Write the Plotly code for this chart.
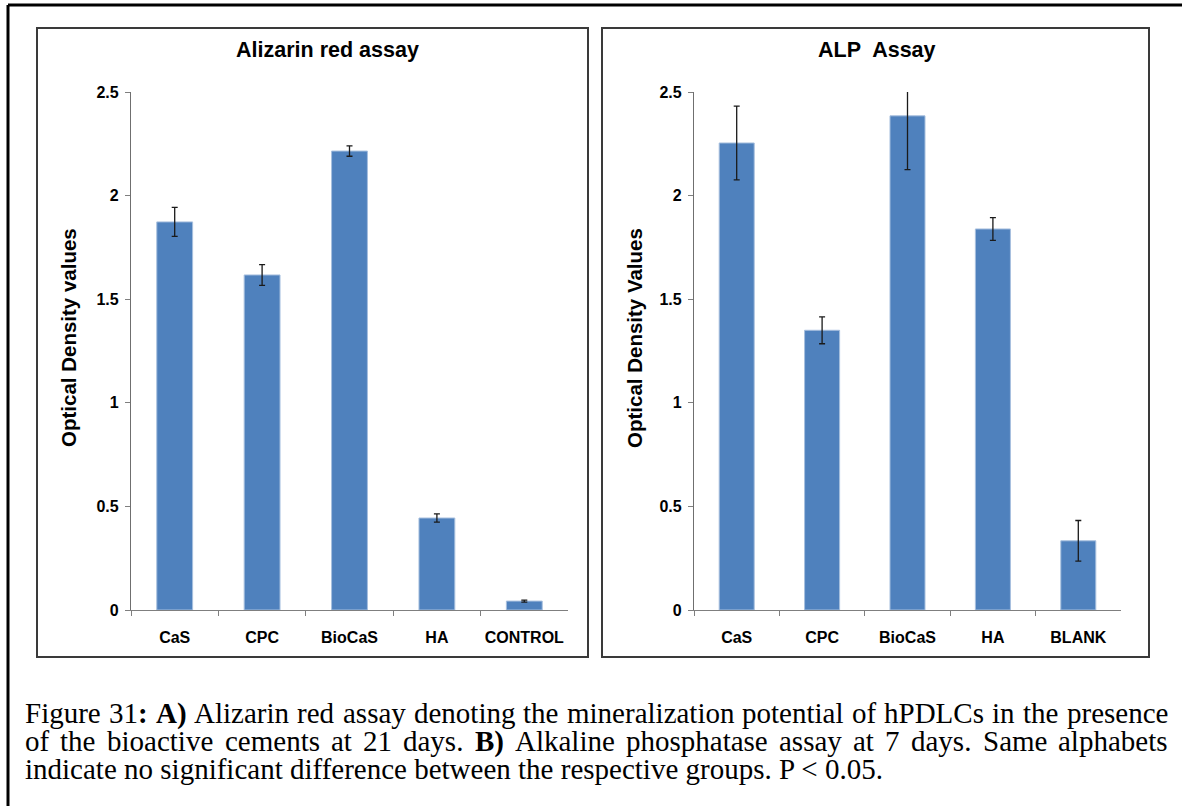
import re
import plotly.graph_objects as go

W, H = 1182, 806

# ---- data ----
cats_a = ["CaS", "CPC", "BioCaS", "HA", "CONTROL"]
vals_a = [1.873, 1.617, 2.215, 0.444, 0.043]
err_a = [0.07, 0.05, 0.025, 0.02, 0.005]

cats_b = ["CaS", "CPC", "BioCaS", "HA", "BLANK"]
vals_b = [2.254, 1.350, 2.385, 1.839, 0.334]
err_b = [0.178, 0.065, 0.26, 0.055, 0.098]

y_ticks = [0, 0.5, 1, 1.5, 2, 2.5]
y_ticktext = ["0", "0.5", "1", "1.5", "2", "2.5"]

title_a = "Alizarin red assay"
title_b = "ALP  Assay"
ytitle_a = "Optical Density values"
ytitle_b = "Optical Density Values"

caption_lines = [
    "Figure 31<b>:</b> <b>A)</b> Alizarin red assay denoting the mineralization potential of hPDLCs in the presence",
    "of the bioactive cements at 21 days. <b>B)</b> Alkaline phosphatase assay at 7 days. Same alphabets",
    "indicate no significant difference between the respective groups. P &lt; 0.05.",
]

BAR = "#4F81BD"
SANS = "Liberation Sans, Arial, sans-serif"
SERIF = "Liberation Serif, Times New Roman, serif"


def px(x):
    return x / W


def py(y):
    return 1 - y / H


# Times metrics (per 1000 em) for caption justification
REG = {" ": 250, ".": 250, ",": 250, ":": 278, "(": 333, ")": 333, "<": 564}
for c in "0123456789":
    REG[c] = 500
REG.update(dict(zip("abcdefghijklmnopqrstuvwxyz",
                    [444, 500, 444, 500, 444, 333, 500, 500, 278, 278, 500, 278, 778, 500, 500, 500, 500,
                     333, 389, 278, 500, 500, 722, 500, 500, 444])))
REG.update(dict(zip("ABCDEFGHIJKLMNOPQRSTUVWXYZ",
                    [722, 667, 667, 722, 611, 556, 722, 722, 333, 389, 722, 611, 889, 722, 722, 556, 722,
                     667, 556, 611, 722, 722, 944, 722, 722, 611])))
BOLD = {":": 333, ")": 333, "A": 722, "B": 667}


def text_width(html, size):
    html = html.replace("&lt;", "<")
    total = 0
    for m in re.finditer(r"<b>(.*?)</b>|([^<]+|<)", html):
        if m.group(1) is not None:
            seg, bold = m.group(1), True
        else:
            seg, bold = m.group(2), False
        for ch in seg:
            total += BOLD.get(ch, REG.get(ch, 500)) if bold else REG.get(ch, 500)
    return total * size / 1000


fig = go.Figure()
for cats, vals, errs, xa, ya in [(cats_a, vals_a, err_a, "x", "y"), (cats_b, vals_b, err_b, "x2", "y2")]:
    fig.add_trace(go.Bar(
        x=cats, y=vals, xaxis=xa, yaxis=ya,
        marker=dict(color=BAR, line=dict(color="#A7BFDE", width=1)),
        error_y=dict(type="data", array=errs, visible=True, color="#1a1a1a", thickness=1.3, width=3),
        showlegend=False, hoverinfo="skip",
    ))

y_dom = [py(610), py(92)]
axis_common_y = dict(
    range=[0, 2.5], tickvals=y_ticks, ticktext=y_ticktext, showgrid=False, zeroline=False,
    showline=True, linecolor="#6f6f6f", linewidth=1.2, ticks="outside", ticklen=5, tickcolor="#7f7f7f",
    tickfont=dict(family=SANS, size=16, color="black", weight="bold"), ticklabelstandoff=3,
    automargin=False,
)
axis_common_x = dict(
    type="category", showgrid=False, zeroline=False, showline=True, linecolor="#7f7f7f", linewidth=1.2,
    ticks="outside", tickson="boundaries", ticklen=5, tickcolor="#7f7f7f", tickangle=0,
    tickfont=dict(family=SANS, size=16, color="black", weight="bold"), ticklabelstandoff=13,
    automargin=False,
)

fig.update_layout(
    width=W, height=H, margin=dict(l=0, r=0, t=0, b=0, autoexpand=False),
    paper_bgcolor="white", plot_bgcolor="white", bargap=0.59,
    xaxis=dict(domain=[px(131), px(568)], anchor="y", **axis_common_x),
    yaxis=dict(domain=y_dom, anchor="x", **axis_common_y),
    xaxis2=dict(domain=[px(694), px(1121)], anchor="y2", **axis_common_x),
    yaxis2=dict(domain=y_dom, anchor="x2", **axis_common_y),
)

shapes = []
for x0, x1 in [(37, 588), (602, 1149)]:
    shapes.append(dict(type="rect", xref="paper", yref="paper", x0=px(x0), x1=px(x1), y0=py(657), y1=py(28),
                       line=dict(color="#3a3a3a", width=2), fillcolor="rgba(0,0,0,0)"))
shapes.append(dict(type="line", xref="paper", yref="paper", x0=px(8), x1=px(8), y0=py(5), y1=0,
                   line=dict(color="black", width=3)))
shapes.append(dict(type="line", xref="paper", yref="paper", x0=px(8), x1=1, y0=py(5), y1=py(5),
                   line=dict(color="black", width=3)))
fig.update_layout(shapes=shapes)

ann = []
for t, cx in [(title_a, 327), (title_b, 877)]:
    ann.append(dict(text=t.replace("  ", "&nbsp; "), x=px(cx), y=py(50), xref="paper", yref="paper",
                    showarrow=False, xanchor="center", yanchor="middle",
                    font=dict(family=SANS, size=21.5, color="black", weight="bold")))
for t, cx in [(ytitle_a, 68), (ytitle_b, 634)]:
    ann.append(dict(text=t, x=px(cx), y=py(338), xref="paper", yref="paper", textangle=-90,
                    showarrow=False, xanchor="center", yanchor="middle",
                    font=dict(family=SANS, size=20.5, color="black", weight="bold")))

CAP_SIZE = 29
X0, X1 = 24, 1167
for i, line in enumerate(caption_lines):
    yc = py(713 + 28 * i)
    if i < len(caption_lines) - 1:
        words = line.split(" ")
        widths = [text_width(w, CAP_SIZE) for w in words]
        gap = (X1 - X0 - sum(widths)) / (len(words) - 1)
        pos = X0
        for w, wd in zip(words, widths):
            ann.append(dict(text=w, x=px(pos), y=yc, xref="paper", yref="paper", borderpad=0,
                            showarrow=False, xanchor="left", yanchor="middle",
                            font=dict(family=SERIF, size=CAP_SIZE, color="black")))
            pos += wd + gap
    else:
        ann.append(dict(text=line, x=px(X0), y=yc, xref="paper", yref="paper", borderpad=0,
                        showarrow=False, xanchor="left", yanchor="middle", align="left",
                        font=dict(family=SERIF, size=CAP_SIZE, color="black")))
fig.update_layout(annotations=ann)

fig.write_html("out.html", config={"displayModeBar": False},
               post_script="document.body.style.margin='0';")
